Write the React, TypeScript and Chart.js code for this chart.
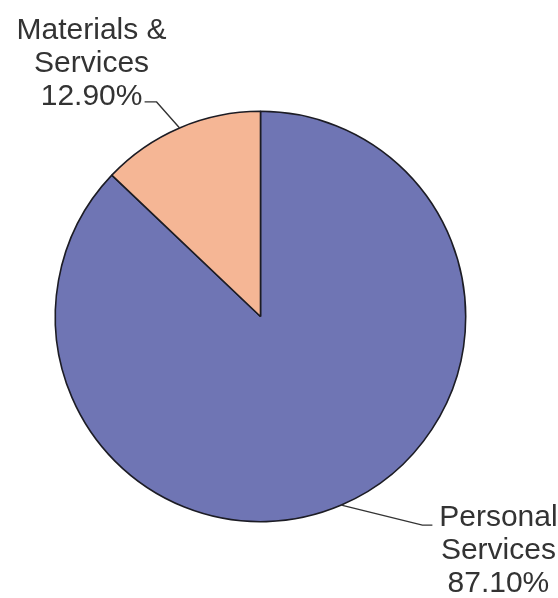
import React, { useEffect, useRef } from "react";
import { Chart, registerables } from "chart.js";

Chart.register(...registerables);

const categories = ["Personal Services", "Materials & Services"];
const labelLines = [["Personal", "Services"], ["Materials &", "Services"]];
const values = [87.1, 12.9];
const colors = ["#6f75b4", "#f5b695"];

// label placement relative to each slice's outer mid-point (style only)
const labelStyle = [
  { elbow: [81, 20], hLen: 10, textDx: 66, firstBaselineDy: -2 },
  { elbow: [-23, -26], hLen: -12, textDx: -53, firstBaselineDy: -66 },
];

const leaderPlugin = {
  id: "leaderLabels",
  afterDatasetsDraw(chart: any) {
    const ctx = chart.ctx;
    const meta = chart.getDatasetMeta(0);
    const data = chart.data.datasets[0].data as number[];
    const total = data.reduce((a, b) => a + b, 0);
    meta.data.forEach((arc: any, i: number) => {
      const p = arc.getProps(["x", "y", "startAngle", "endAngle", "outerRadius"], true);
      const mid = (p.startAngle + p.endAngle) / 2;
      const ax = p.x + Math.cos(mid) * p.outerRadius;
      const ay = p.y + Math.sin(mid) * p.outerRadius;
      const st = labelStyle[i];
      const ex = ax + st.elbow[0];
      const ey = ay + st.elbow[1];
      const hx = ex + st.hLen;
      ctx.save();
      ctx.strokeStyle = "#333333";
      ctx.lineWidth = 1.4;
      ctx.beginPath();
      ctx.moveTo(ax, ay);
      ctx.lineTo(ex, ey);
      ctx.lineTo(hx, ey);
      ctx.stroke();
      ctx.fillStyle = "#333333";
      ctx.font = "30px 'Liberation Sans', Arial, sans-serif";
      ctx.textAlign = "center";
      ctx.textBaseline = "alphabetic";
      const lines = [...labelLines[i], ((data[i] / total) * 100).toFixed(2) + "%"];
      const tx = hx + st.textDx;
      lines.forEach((ln, k) => {
        ctx.fillText(ln, tx, ey + 3 + st.firstBaselineDy + k * 33);
      });
      ctx.restore();
    });
  },
};

export default function App() {
  const ref = useRef<HTMLCanvasElement>(null);
  useEffect(() => {
    document.body.style.margin = "0";
    const chart = new Chart(ref.current!, {
      type: "pie",
      data: {
        labels: categories,
        datasets: [
          {
            data: values,
            backgroundColor: colors,
            borderColor: "#1c1c24",
            borderWidth: 1.6,
          },
        ],
      },
      options: {
        animation: false,
        responsive: false,
        maintainAspectRatio: false,
        layout: { padding: { left: 54.5, right: 91.5, top: 110.5, bottom: 75.5 } },
        plugins: { legend: { display: false }, tooltip: { enabled: false } },
      },
      plugins: [leaderPlugin],
    });
    return () => chart.destroy();
  }, []);
  return (
    <div style={{ width: 558, height: 598, background: "#ffffff" }}>
      <canvas ref={ref} width={558} height={598} style={{ display: "block" }} />
    </div>
  );
}
